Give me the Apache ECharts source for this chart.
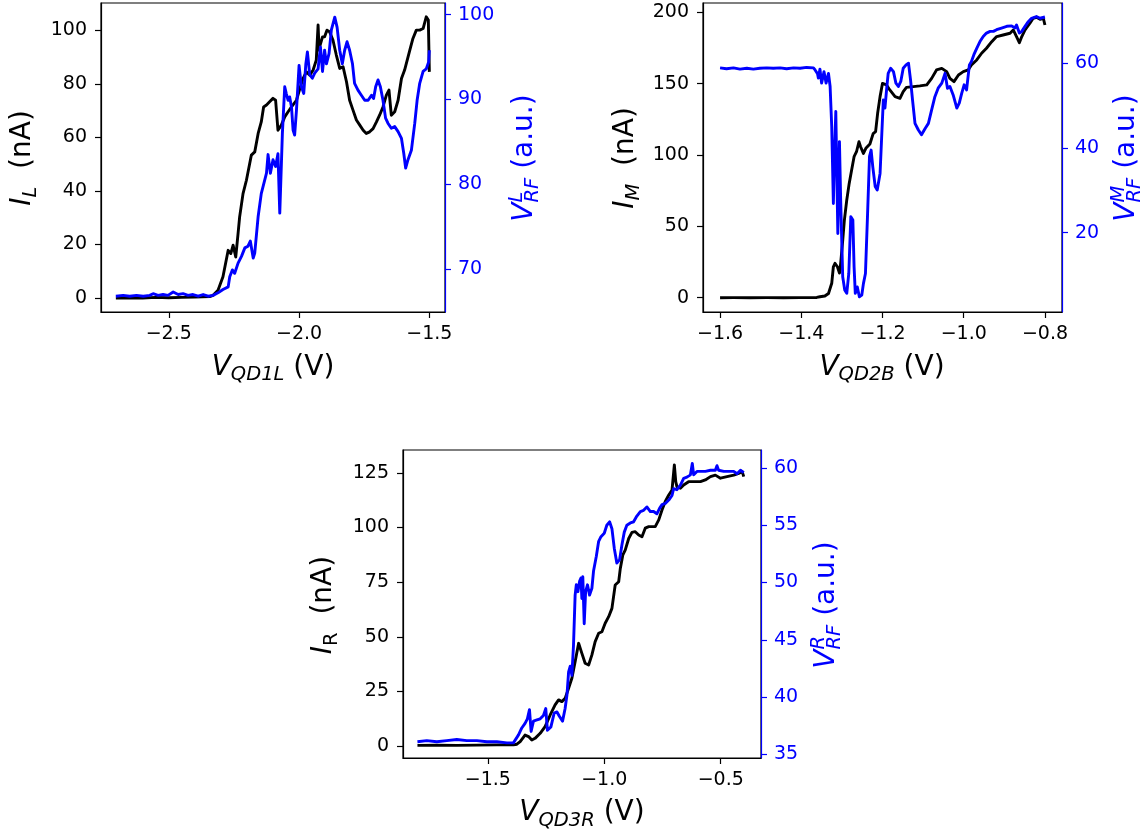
<!DOCTYPE html>
<html><head><meta charset="utf-8">
<script src="https://cdn.jsdelivr.net/npm/echarts@6/dist/echarts.min.js"></script>
<style>html,body{margin:0;padding:0;background:#fff}#c{width:1148px;height:836px}</style>
</head><body><div id="c"></div>
<script>
// ---------- Panel L (V_QD1L) ----------
const xL_I = [-2.703,-2.65,-2.6,-2.55,-2.5,-2.45,-2.4,-2.343,-2.330,-2.311,-2.292,-2.272,-2.262,-2.253,-2.243,-2.234,-2.228,-2.215,-2.202,-2.183,-2.170,-2.157,-2.145,-2.136,-2.125,-2.113,-2.100,-2.090,-2.081,-2.068,-2.055,-2.042,-2.029,-2.010,-1.997,-1.985,-1.972,-1.959,-1.946,-1.934,-1.927,-1.923,-1.921,-1.910,-1.902,-1.893,-1.883,-1.870,-1.857,-1.844,-1.831,-1.818,-1.806,-1.793,-1.780,-1.767,-1.754,-1.742,-1.729,-1.716,-1.703,-1.691,-1.678,-1.665,-1.655,-1.646,-1.633,-1.620,-1.607,-1.595,-1.575,-1.563,-1.550,-1.537,-1.524,-1.512,-1.504,-1.500];
const iL   = [0.0,0.1,0.0,0.2,0.1,0.2,0.3,0.5,1.0,2.9,7.9,17.8,16.6,19.7,15.3,24.1,30.3,39.0,44.0,53.4,54.6,61.5,65.8,71.4,72.1,73.3,74.6,73.9,62.7,64.6,67.7,69.6,71.4,73.9,78.3,82.0,84.5,83.3,85.2,88.9,102.0,92.6,93.9,97.6,97.6,100.1,99.5,96.4,90.8,85.8,86.4,80.8,73.9,70.2,66.5,64.6,62.7,61.5,62.1,63.3,65.8,68.3,71.4,75.8,77.7,68.3,69.6,73.9,82.0,85.2,92.6,97.0,100.1,100.1,100.7,105.1,103.9,84.5];
const xL_V = [-2.703,-2.675,-2.650,-2.624,-2.598,-2.573,-2.560,-2.541,-2.522,-2.503,-2.483,-2.464,-2.445,-2.426,-2.407,-2.387,-2.368,-2.349,-2.330,-2.311,-2.292,-2.272,-2.266,-2.256,-2.247,-2.234,-2.221,-2.208,-2.196,-2.187,-2.176,-2.170,-2.157,-2.145,-2.138,-2.125,-2.119,-2.110,-2.100,-2.090,-2.081,-2.074,-2.064,-2.055,-2.049,-2.042,-2.036,-2.029,-2.023,-2.017,-2.010,-2.000,-1.991,-1.982,-1.974,-1.968,-1.959,-1.949,-1.940,-1.927,-1.918,-1.910,-1.902,-1.895,-1.885,-1.876,-1.863,-1.854,-1.844,-1.834,-1.825,-1.816,-1.806,-1.795,-1.787,-1.774,-1.761,-1.748,-1.735,-1.722,-1.714,-1.706,-1.697,-1.688,-1.678,-1.668,-1.659,-1.646,-1.633,-1.620,-1.607,-1.598,-1.591,-1.582,-1.569,-1.556,-1.547,-1.537,-1.524,-1.512,-1.503,-1.500];
const vL   = [66.8,66.9,66.8,66.9,66.8,66.9,67.1,66.9,67.0,66.9,67.3,67.0,67.1,66.9,67.0,66.8,67.0,66.8,66.9,67.2,67.6,67.9,69.1,69.9,69.5,70.7,71.5,72.5,72.7,73.3,71.3,71.9,76.2,78.9,79.1,81.3,83.5,81.3,82.9,82.1,83.6,76.6,86.0,91.5,90.7,89.9,90.3,89.1,86.4,85.8,88.7,94.0,91.5,90.7,94.2,95.6,92.9,92.5,93.1,93.6,96.2,93.3,95.8,94.2,95.4,98.2,99.7,98.5,95.8,94.2,95.8,96.8,95.8,94.2,91.9,91.1,90.5,89.9,89.9,90.5,90.1,91.5,92.3,91.5,89.9,87.8,87.2,86.6,86.8,86.2,85.4,83.6,81.9,82.9,84.0,87.2,89.9,91.9,93.3,93.6,94.4,95.8];

// ---------- Panel M (V_QD2B) ----------
const xM_I = [-1.600,-1.567,-1.526,-1.485,-1.444,-1.403,-1.362,-1.354,-1.342,-1.333,-1.325,-1.321,-1.317,-1.311,-1.306,-1.303,-1.298,-1.294,-1.288,-1.282,-1.276,-1.270,-1.264,-1.258,-1.254,-1.247,-1.241,-1.231,-1.223,-1.217,-1.212,-1.206,-1.200,-1.190,-1.182,-1.169,-1.157,-1.149,-1.141,-1.124,-1.108,-1.091,-1.079,-1.067,-1.054,-1.042,-1.034,-1.024,-1.013,-1.001,-0.989,-0.981,-0.968,-0.956,-0.944,-0.931,-0.919,-0.903,-0.886,-0.878,-0.870,-0.863,-0.857,-0.849,-0.837,-0.829,-0.821,-0.812,-0.804,-0.800];
const iM   = [0.0,0.1,0.0,0.1,0.0,0.1,0.2,0.7,1.2,3.0,10.1,21.7,24.1,21.7,17.3,24.1,40.0,54.0,68.5,80.1,89.5,98.8,102.3,109.3,105.8,101.1,104.7,107.7,115.0,116.4,129.2,140.9,150.2,149.1,145.6,140.9,139.7,144.4,147.4,147.9,148.4,149.1,153.7,159.6,160.7,158.4,153.7,151.4,156.1,158.4,159.6,163.1,166.6,171.3,174.8,179.4,183.0,184.1,185.3,187.6,183.0,178.7,183.0,187.6,192.3,195.8,196.5,195.1,195.8,191.1];
const xM_V = [-1.600,-1.584,-1.567,-1.551,-1.534,-1.518,-1.502,-1.485,-1.469,-1.452,-1.436,-1.419,-1.403,-1.387,-1.370,-1.366,-1.360,-1.358,-1.354,-1.350,-1.344,-1.339,-1.333,-1.329,-1.325,-1.321,-1.319,-1.315,-1.313,-1.310,-1.306,-1.303,-1.298,-1.293,-1.288,-1.283,-1.278,-1.273,-1.270,-1.267,-1.262,-1.257,-1.251,-1.247,-1.242,-1.237,-1.232,-1.228,-1.224,-1.218,-1.213,-1.206,-1.202,-1.198,-1.194,-1.190,-1.186,-1.180,-1.173,-1.167,-1.161,-1.155,-1.149,-1.142,-1.136,-1.131,-1.126,-1.120,-1.112,-1.104,-1.095,-1.087,-1.079,-1.071,-1.063,-1.054,-1.046,-1.040,-1.034,-1.026,-1.017,-1.011,-1.005,-0.999,-0.993,-0.986,-0.981,-0.975,-0.968,-0.960,-0.952,-0.944,-0.935,-0.927,-0.919,-0.907,-0.894,-0.882,-0.874,-0.870,-0.863,-0.857,-0.849,-0.841,-0.833,-0.821,-0.812,-0.800];
const vM   = [58.9,58.7,58.9,58.6,58.8,58.6,58.8,58.9,58.8,58.9,58.7,58.9,58.8,59.0,58.9,58.4,57.5,56.5,58.6,55.3,58.0,55.3,57.6,54.5,45.0,26.9,35.6,48.6,37.2,19.8,41.5,27.7,9.6,6.5,5.7,10.4,23.8,23.0,12.0,5.7,7.2,4.9,5.3,8.0,10.4,23.8,38.0,39.5,35.6,30.9,30.1,34.0,42.7,51.3,49.4,53.7,57.6,58.8,58.0,55.3,54.5,55.7,58.8,59.6,60.0,56.1,51.3,45.8,44.3,43.1,44.6,45.8,49.0,52.1,54.1,55.3,57.6,54.1,54.5,52.5,49.4,50.6,52.9,54.9,53.7,59.6,60.4,62.0,63.5,65.1,66.3,67.1,67.5,67.5,67.9,68.3,68.7,68.8,68.3,69.0,67.1,67.5,68.7,69.8,70.6,71.0,70.6,70.9];

// ---------- Panel R (V_QD3R) ----------
const xR_I = [-1.802,-1.719,-1.633,-1.547,-1.461,-1.390,-1.375,-1.361,-1.340,-1.325,-1.311,-1.297,-1.275,-1.254,-1.232,-1.211,-1.196,-1.182,-1.168,-1.153,-1.139,-1.125,-1.110,-1.096,-1.082,-1.067,-1.053,-1.039,-1.024,-1.010,-0.996,-0.981,-0.967,-0.953,-0.938,-0.931,-0.920,-0.910,-0.895,-0.881,-0.867,-0.852,-0.838,-0.824,-0.809,-0.795,-0.781,-0.766,-0.752,-0.738,-0.723,-0.709,-0.699,-0.693,-0.688,-0.673,-0.659,-0.638,-0.616,-0.587,-0.566,-0.544,-0.523,-0.501,-0.473,-0.444,-0.423,-0.408,-0.401];
const iR   = [0.3,0.4,0.3,0.4,0.5,0.5,0.8,2.0,5.0,4.3,2.7,3.5,5.8,8.9,14.2,18.8,21.1,20.3,21.8,26.4,31.0,38.6,47.0,42.4,37.9,37.1,41.7,47.8,51.6,52.3,56.2,59.2,63.0,73.7,75.2,81.3,87.5,89.7,95.0,97.8,98.1,96.6,95.8,99.7,100.4,100.4,100.4,103.5,108.0,111.9,114.9,117.2,128.7,121.0,118.7,118.0,119.5,121.0,121.0,121.0,121.8,123.3,124.0,122.6,123.3,124.0,124.8,125.6,123.3];
const xR_V = [-1.802,-1.762,-1.719,-1.676,-1.633,-1.590,-1.547,-1.504,-1.461,-1.418,-1.390,-1.383,-1.368,-1.354,-1.340,-1.330,-1.321,-1.314,-1.304,-1.289,-1.275,-1.261,-1.251,-1.244,-1.229,-1.215,-1.203,-1.192,-1.179,-1.168,-1.160,-1.153,-1.146,-1.139,-1.132,-1.125,-1.120,-1.113,-1.106,-1.100,-1.096,-1.092,-1.086,-1.080,-1.072,-1.063,-1.053,-1.046,-1.034,-1.024,-1.014,-1.000,-0.989,-0.977,-0.967,-0.957,-0.946,-0.934,-0.924,-0.914,-0.903,-0.888,-0.874,-0.860,-0.845,-0.831,-0.817,-0.802,-0.788,-0.774,-0.762,-0.752,-0.738,-0.723,-0.709,-0.702,-0.688,-0.673,-0.659,-0.645,-0.630,-0.622,-0.616,-0.602,-0.587,-0.566,-0.544,-0.523,-0.516,-0.509,-0.487,-0.466,-0.444,-0.430,-0.415,-0.401];
const vR   = [36.1,36.2,36.1,36.2,36.3,36.2,36.2,36.1,36.1,36.0,36.0,36.0,36.7,37.3,37.7,38.1,38.9,37.0,37.9,38.0,38.1,38.4,39.0,37.1,37.4,38.6,38.7,38.3,37.9,39.0,40.2,42.2,42.7,41.9,44.5,48.9,49.8,49.2,50.1,50.4,48.6,50.5,46.4,49.2,49.8,48.9,49.5,51.0,52.3,53.6,54.0,54.3,55.0,55.3,54.7,53.0,51.7,52.0,53.3,54.4,55.0,55.2,55.3,55.8,56.2,56.3,56.6,56.2,56.2,56.0,56.5,56.8,56.9,57.2,57.6,58.2,58.1,58.5,59.1,59.2,59.4,60.4,59.4,59.7,59.7,59.7,59.8,59.8,60.2,59.8,59.7,59.7,59.7,59.5,59.8,59.6];

// ---------- tick labels ----------
const xTicksL = [-2.5,-2.0,-1.5];
const iTicksL = [0,20,40,60,80,100];
const vTicksL = [70,80,90,100];
const xTicksM = [-1.6,-1.4,-1.2,-1.0,-0.8];
const iTicksM = [0,50,100,150,200];
const vTicksM = [20,40,60];
const xTicksR = [-1.5,-1.0,-0.5];
const iTicksR = [0,25,50,75,100,125];
const vTicksR = [35,40,45,50,55,60];

const FF = 'DejaVu Sans';
const BLACK = '#000000', BLUE = '#0000ff';
const TICK_FS = 19, LAB_FS = 28, SUB_FS = 19.5, LW = 2.9;

function fmt(dec){ return v => (v < 0 ? '\u2212' : '') + Math.abs(v).toFixed(dec); }
function zip(xs, ys){ return xs.map((x,i)=>[x, ys[i]]); }

function xAx(gi, min, max, ticks){
  return {type:'value', gridIndex:gi, min, max, position:'bottom',
    axisLine:{show:true, onZero:false, lineStyle:{color:BLACK, width:1.2}},
    axisTick:{show:true, length:6, customValues:ticks, lineStyle:{color:BLACK, width:1.2}},
    axisLabel:{customValues:ticks, formatter:fmt(1), color:BLACK, fontSize:TICK_FS, fontFamily:FF, margin:13},
    splitLine:{show:false}};
}
function yAx(gi, min, max, ticks, side, color){
  return {type:'value', gridIndex:gi, min, max, position:side,
    axisLine:{show:true, onZero:false, lineStyle:{color, width:1.2}},
    axisTick:{show:true, length:6, customValues:ticks, lineStyle:{color, width:1.2}},
    axisLabel:{customValues:ticks, formatter:fmt(0), color, fontSize:TICK_FS, fontFamily:FF, margin: side==='left'?14:13},
    splitLine:{show:false}};
}

// text measurement for composed math-like labels
const mctx = document.createElement('canvas').getContext('2d');
function tw(t, s, it){ mctx.font = (it?'italic ':'') + s + 'px "' + FF + '"'; return mctx.measureText(t).width; }
function mathLabel(parts, cx, cy, rot, color){
  let x = 0, held = 0; const xs = [];
  parts.forEach(p => {
    xs.push(x);
    const w = tw(p.t, p.s, p.it);
    if (p.hold) { held = w; } else { x += Math.max(w, held); held = 0; }
  });
  const total = x;
  const base = 0.35 * LAB_FS;
  return {type:'group', x:cx, y:cy, rotation:rot, silent:true,
    children: parts.map((p,i)=>({type:'text', x: xs[i] - total/2, y: base + (p.sh||0) - 0.35*p.s,
      style:{text:p.t, fontSize:p.s, fontFamily:FF, fontStyle:p.it?'italic':'normal', fill:color,
        align:'left', verticalAlign:'middle', textAlign:'left', textVerticalAlign:'middle'}}))};
}
const R90 = Math.PI/2;
const graphics = [
  mathLabel([{t:'V',s:LAB_FS,it:1},{t:'QD1L',s:SUB_FS,it:1,sh:4.5},{t:' (V)',s:LAB_FS}], 273, 367.5, 0, BLACK),
  mathLabel([{t:'V',s:LAB_FS,it:1},{t:'QD2B',s:SUB_FS,it:1,sh:4.5},{t:' (V)',s:LAB_FS}], 882, 367.5, 0, BLACK),
  mathLabel([{t:'V',s:LAB_FS,it:1},{t:'QD3R',s:SUB_FS,it:1,sh:4.5},{t:' (V)',s:LAB_FS}], 582, 813, 0, BLACK),
  mathLabel([{t:'I',s:LAB_FS,it:1},{t:'L',s:SUB_FS,it:1,sh:4.5},{t:'  (nA)',s:LAB_FS}], 23, 158, R90, BLACK),
  mathLabel([{t:'I',s:LAB_FS,it:1},{t:'M',s:SUB_FS,it:1,sh:4.5},{t:'  (nA)',s:LAB_FS}], 626, 158, R90, BLACK),
  mathLabel([{t:'I',s:LAB_FS,it:1},{t:'R',s:SUB_FS,it:0,sh:4.5},{t:'  (nA)',s:LAB_FS}], 324, 605, R90, BLACK),
  mathLabel([{t:'V',s:LAB_FS,it:1},{t:'L',s:SUB_FS,it:1,sh:-11,hold:1},{t:'RF',s:SUB_FS,it:1,sh:5},{t:' (a.u.)',s:LAB_FS}], 525, 158, R90, BLUE),
  mathLabel([{t:'V',s:LAB_FS,it:1},{t:'M',s:SUB_FS,it:1,sh:-11,hold:1},{t:'RF',s:SUB_FS,it:1,sh:5},{t:' (a.u.)',s:LAB_FS}], 1127, 158, R90, BLUE),
  mathLabel([{t:'V',s:LAB_FS,it:1},{t:'R',s:SUB_FS,it:1,sh:-11,hold:1},{t:'RF',s:SUB_FS,it:1,sh:5},{t:' (a.u.)',s:LAB_FS}], 827, 605, R90, BLUE)
];

const gridBase = {show:true, borderColor:BLACK, borderWidth:1.2, backgroundColor:'transparent', containLabel:false, outerBoundsMode:'none'};
const option = {
  animation:false,
  backgroundColor:'#ffffff',
  grid:[
    Object.assign({left:101, top:3, width:344, height:309}, gridBase),
    Object.assign({left:703, top:3, width:359, height:309}, gridBase),
    Object.assign({left:403, top:450, width:358, height:308}, gridBase)
  ],
  xAxis:[ xAx(0,-2.76,-1.44,xTicksL), xAx(1,-1.642,-0.758,xTicksM), xAx(2,-1.864,-0.327,xTicksR) ],
  yAxis:[
    yAx(0,-5.25,110.25,iTicksL,'left',BLACK), yAx(0,64.94,101.37,vTicksL,'right',BLUE),
    yAx(1,-10,206.5,iTicksM,'left',BLACK),   yAx(1,1.3,74.2,vTicksM,'right',BLUE),
    yAx(2,-5.5,135.5,iTicksR,'left',BLACK),  yAx(2,34.68,61.57,vTicksR,'right',BLUE)
  ],
  series:[
    {type:'line', xAxisIndex:0, yAxisIndex:0, data:zip(xL_I,iL), showSymbol:false, lineStyle:{color:BLACK,width:LW,join:'round'}, itemStyle:{color:BLACK}, z:2},
    {type:'line', xAxisIndex:0, yAxisIndex:1, data:zip(xL_V,vL), showSymbol:false, lineStyle:{color:BLUE,width:LW,join:'round'}, itemStyle:{color:BLUE}, z:3},
    {type:'line', xAxisIndex:1, yAxisIndex:2, data:zip(xM_I,iM), showSymbol:false, lineStyle:{color:BLACK,width:LW,join:'round'}, itemStyle:{color:BLACK}, z:2},
    {type:'line', xAxisIndex:1, yAxisIndex:3, data:zip(xM_V,vM), showSymbol:false, lineStyle:{color:BLUE,width:LW,join:'round'}, itemStyle:{color:BLUE}, z:3},
    {type:'line', xAxisIndex:2, yAxisIndex:4, data:zip(xR_I,iR), showSymbol:false, lineStyle:{color:BLACK,width:LW,join:'round'}, itemStyle:{color:BLACK}, z:2},
    {type:'line', xAxisIndex:2, yAxisIndex:5, data:zip(xR_V,vR), showSymbol:false, lineStyle:{color:BLUE,width:LW,join:'round'}, itemStyle:{color:BLUE}, z:3}
  ],
  graphic: graphics
};
const chart = echarts.init(document.getElementById('c'), null, {renderer:'canvas'});
chart.setOption(option);
</script></body></html>
